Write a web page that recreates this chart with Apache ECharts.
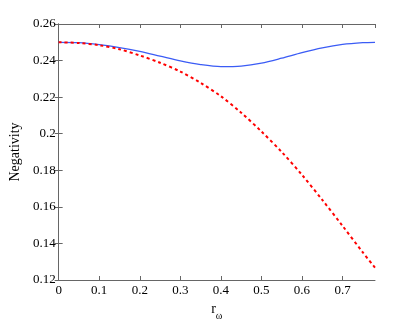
<!DOCTYPE html>
<html><head><meta charset="utf-8">
<script src="https://cdn.jsdelivr.net/npm/echarts@6/dist/echarts.min.js"></script>
<style>html,body{margin:0;padding:0;background:#fff}#c{width:415px;height:326px}</style>
</head><body><div id="c"></div>
<script>
var rValues = [0, 0.05, 0.1, 0.15, 0.2, 0.25, 0.3, 0.35, 0.4, 0.45, 0.5, 0.55, 0.6, 0.65, 0.7, 0.75, 0.78];
var blueSolid = [0.25, 0.2498, 0.2487, 0.2471, 0.2450, 0.2424, 0.2398, 0.2378, 0.2367, 0.2370, 0.2386, 0.2413, 0.2443, 0.2469, 0.2488, 0.2498, 0.2500];
var redDashed = [0.25, 0.2496, 0.2484, 0.2462, 0.2428, 0.2388, 0.2340, 0.2278, 0.2205, 0.2115, 0.2012, 0.1900, 0.1775, 0.1638, 0.1496, 0.1351, 0.1267];
var xTicks = [0, 0.1, 0.2, 0.3, 0.4, 0.5, 0.6, 0.7];
var yTicks = [0.12, 0.14, 0.16, 0.18, 0.2, 0.22, 0.24, 0.26];

function pairs(ys){ return rValues.map(function(x,i){ return [x, ys[i]]; }); }
var font = 'Liberation Serif';
var axisCommon = {
  axisLine: {lineStyle: {color: '#666', width: 1}},
  axisTick: {inside: true, length: 4, lineStyle: {color: '#666'}},
  splitLine: {show: false}
};
function isTick(list, v){ return list.some(function(t){ return Math.abs(t - v) < 1e-6; }); }
var chart = echarts.init(document.getElementById('c'), null, {renderer: 'canvas'});
chart.setOption({
  animation: false,
  grid: {left: 54, right: 40, top: 24, bottom: 37},
  xAxis: [
    Object.assign({type: 'value', min: 0, max: 0.78, interval: 0.1, position: 'bottom',
      name: '{r|r}{s|ω}', nameLocation: 'middle', nameGap: 18,
      nameTextStyle: {rich: {r: {fontFamily: font, fontSize: 14, color: '#000'}, s: {fontFamily: font, fontSize: 10, color: '#000', padding: [13,0,0,0]}}},
      axisLabel: {fontFamily: font, fontSize: 13, color: '#000', margin: 4, showMaxLabel: false,
        formatter: function(v){ return isTick(xTicks, v) ? String(Math.round(v*10)/10) : ''; }}
    }, axisCommon),
    Object.assign({type: 'value', min: 0, max: 0.78, interval: 0.1, position: 'top', axisLabel: {show: false}}, axisCommon)
  ],
  yAxis: [
    Object.assign({type: 'value', min: 0.12, max: 0.26, interval: 0.02, position: 'left',
      name: 'Negativity', nameLocation: 'middle', nameGap: 30, nameRotate: 90,
      nameTextStyle: {fontFamily: font, fontSize: 14, color: '#000'},
      axisLabel: {fontFamily: font, fontSize: 13, color: '#000', margin: 3,
        formatter: function(v){ return isTick(yTicks, v) ? String(Math.round(v*100)/100) : ''; }}
    }, axisCommon),
    Object.assign({type: 'value', min: 0.12, max: 0.26, interval: 0.02, position: 'right', axisLabel: {show: false}}, axisCommon)
  ],
  series: [
    {type: 'line', data: pairs(blueSolid), smooth: 0.3, symbol: 'none', xAxisIndex: 0, yAxisIndex: 0,
      lineStyle: {color: '#3b5cf5', width: 1.3}},
    {type: 'line', data: pairs(redDashed), smooth: 0.3, symbol: 'none', xAxisIndex: 0, yAxisIndex: 0,
      lineStyle: {color: '#ff0000', width: 2, type: [3, 3]}}
  ]
});
</script></body></html>
